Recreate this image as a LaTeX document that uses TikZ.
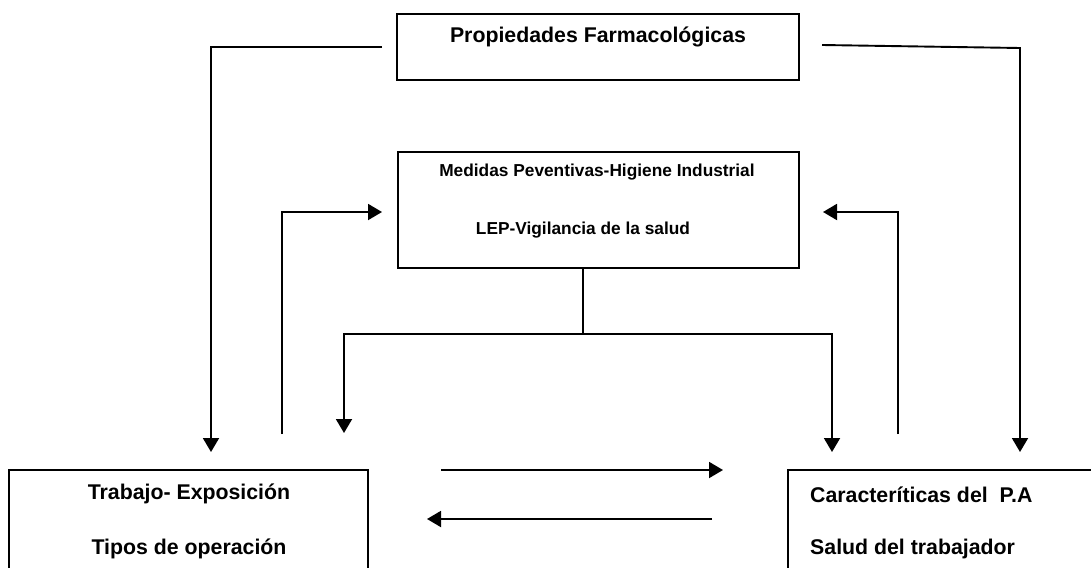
\documentclass[tikz,border=0pt]{standalone}
\usepackage{fontspec}
\setmainfont{Liberation Sans}
\usetikzlibrary{arrows.meta}
\begin{document}
\begin{tikzpicture}[x=1pt,y=-1pt,
  box/.style={draw,line width=1.7pt,inner sep=0pt},
  bigtxt/.style={font=\fontsize{21.3}{24}\selectfont\bfseries,inner sep=0pt},
  smalltxt/.style={font=\fontsize{17.3}{20}\selectfont\bfseries,inner sep=0pt},
  link/.style={line width=1.9pt},
  arr/.style={link,-{Triangle[length=14pt,width=16pt]}}]
\clip (0,0) rectangle (1091,567);
\fill[white] (0,0) rectangle (1091,567);

% boxes
\node[box,minimum width=402pt,minimum height=66pt] (prop) at (598,47) {};
\node[box,minimum width=401pt,minimum height=116pt] (med) at (598.5,210) {};
\node[box,minimum width=359pt,minimum height=130pt] (trab) at (188.5,535) {};
\node[box,minimum width=322pt,minimum height=130pt] (cara) at (949,535) {};

% box texts
\node[bigtxt] (tprop) at (598,37) {Propiedades Farmacológicas};
\node[smalltxt] (tmed1) at (597,172) {Medidas Peventivas-Higiene Industrial};
\node[smalltxt] (tmed2) at (583,230) {LEP-Vigilancia de la salud};
\node[bigtxt] (ttrab1) at (189,494) {Trabajo- Exposición};
\node[bigtxt] (ttrab2) at (189,549) {Tipos de operación};
\node[bigtxt,anchor=west] (tcara1) at (810,495) {Caracteríticas del\ \ P.A};
\node[bigtxt,anchor=west] (tcara2) at (810,549) {Salud del trabajador};

% connector end points
\coordinate (pl) at (382,47);
\coordinate (pr) at (822,45);
\coordinate (plc) at (211,47);
\coordinate (prc) at (1020,48);
\coordinate (tl) at (211,452);
\coordinate (tr) at (1020,452);
\coordinate (fl0) at (282,434);
\coordinate (fl1) at (282,212);
\coordinate (fl2) at (382,212);
\coordinate (fr0) at (898,434);
\coordinate (fr1) at (898,212);
\coordinate (fr2) at (823,212);
\coordinate (stem) at (583,334);
\coordinate (bl) at (344,334);
\coordinate (br) at (832,334);
\coordinate (blt) at (344,433);
\coordinate (brt) at (832,452);
\coordinate (h1a) at (441,470);
\coordinate (h1b) at (723,470);
\coordinate (h2a) at (712,519);
\coordinate (h2b) at (427,519);

% pharmacological properties to both sides
\draw[arr] (pl) -- (plc) -- (tl);
\draw[arr] (pr) -- (prc) -- (tr);

% feedback into preventive measures
\draw[arr] (fl0) -- (fl1) -- (fl2);
\draw[arr] (fr0) -- (fr1) -- (fr2);

% preventive measures back down
\draw[link] (med.south -| stem) -- (stem);
\draw[arr] (stem) -- (bl) -- (blt);
\draw[arr] (stem) -- (br) -- (brt);

% exchange between exposure and characteristics
\draw[arr] (h1a) -- (h1b);
\draw[arr] (h2a) -- (h2b);
\end{tikzpicture}
\end{document}
